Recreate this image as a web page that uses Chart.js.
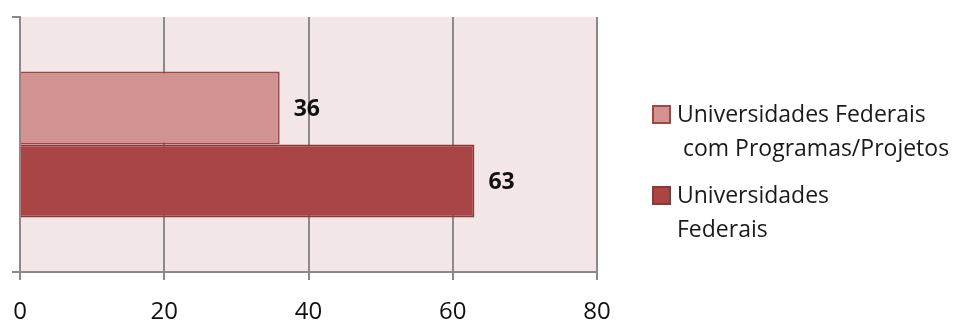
<!DOCTYPE html>
<html>
<head>
<meta charset="utf-8">
<script src="https://cdn.jsdelivr.net/npm/chart.js@4"></script>
<style>
  html, body { margin: 0; padding: 0; background: #ffffff; }
  #wrap { position: relative; width: 957px; height: 325px; }
</style>
</head>
<body>
<div id="wrap"><canvas id="chart"></canvas></div>
<script>
/* ==========================
   DADOS
========================== */
const categorias = [""];
const rotulosSeries = [
  ["Universidades Federais", " com Programas/Projetos"],
  ["Universidades", "Federais"]
];
const comProgramas = [36];
const universidadesFederais = [63];
const ticksX = [0, 20, 40, 60, 80];

const FONTE = '"Open Sans", Lato, sans-serif';
const COR_GRADE = "#8a8a8a";

// fundo rosado só dentro da área do gráfico
const fundoArea = {
  id: "fundoArea",
  beforeDraw(chart) {
    const { ctx, chartArea: a } = chart;
    ctx.save();
    ctx.fillStyle = "#f2e6e6";
    ctx.fillRect(a.left, a.top, a.right - a.left, a.bottom - a.top);
    ctx.restore();
  }
};

// número em negrito logo depois do fim de cada barra
const valoresBarras = {
  id: "valoresBarras",
  afterDatasetsDraw(chart) {
    const { ctx } = chart;
    ctx.save();
    ctx.font = `bold 23px ${FONTE}`;
    ctx.fillStyle = "#111111";
    ctx.textAlign = "left";
    ctx.textBaseline = "middle";
    chart.data.datasets.forEach((ds, i) => {
      chart.getDatasetMeta(i).data.forEach((bar, j) => {
        ctx.fillText(String(ds.data[j]), bar.x + 14, bar.y + 1);
      });
    });
    ctx.restore();
  }
};

// legenda à direita, com quebra de linha nos rótulos
const legendaLateral = {
  id: "legendaLateral",
  afterDraw(chart, args, opts) {
    const { ctx } = chart;
    ctx.save();
    ctx.font = `23px ${FONTE}`;
    ctx.textAlign = "left";
    ctx.textBaseline = "alphabetic";
    let base = opts.top;
    chart.data.datasets.forEach(ds => {
      ctx.fillStyle = ds.backgroundColor;
      ctx.strokeStyle = ds.borderColor;
      ctx.lineWidth = 2;
      ctx.fillRect(opts.x, base - 16, 17, 17);
      ctx.strokeRect(opts.x, base - 16, 17, 17);
      ctx.fillStyle = "#1a1a1a";
      ds.label.forEach((linha, k) => {
        ctx.fillText(linha, opts.x + 24, base + k * opts.lineGap);
      });
      base += ds.label.length * opts.lineGap + opts.itemGap;
    });
    ctx.restore();
  }
};

new Chart(document.getElementById("chart"), {
  type: "bar",
  data: {
    labels: categorias,
    datasets: [
      {
        label: rotulosSeries[0],
        data: comProgramas,
        backgroundColor: "#d19292",
        borderColor: "#a44444",
        borderWidth: 2,
        borderSkipped: "start"
      },
      {
        label: rotulosSeries[1],
        data: universidadesFederais,
        backgroundColor: "#a94545",
        borderColor: "#8e3737",
        borderWidth: 2,
        borderSkipped: "start"
      }
    ]
  },
  options: {
    indexAxis: "y",
    responsive: true,
    maintainAspectRatio: false,
    animation: false,
    categoryPercentage: 0.573,
    barPercentage: 1,
    layout: {
      autoPadding: false,
      padding: { top: 17, right: 360, bottom: 1, left: 12 }
    },
    plugins: {
      legend: { display: false },
      tooltip: { enabled: false },
      legendaLateral: { x: 653, top: 122, lineGap: 34, itemGap: 13 }
    },
    scales: {
      x: {
        min: 0,
        max: 80,
        afterBuildTicks: axis => {
          axis.ticks = ticksX.map(v => ({ value: v }));
        },
        afterFit: axis => {
          axis.height = 52;
          axis.paddingLeft = 0;
          axis.paddingRight = 0;
        },
        ticks: {
          color: "#111111",
          padding: 20,
          font: { family: FONTE, size: 24, lineHeight: 1 }
        },
        grid: {
          color: COR_GRADE,
          lineWidth: 2,
          tickLength: 8
        },
        border: { color: COR_GRADE, width: 2 }
      },
      y: {
        afterFit: axis => {
          axis.width = 8;
        },
        ticks: { display: false },
        grid: {
          color: COR_GRADE,
          lineWidth: 2,
          tickLength: 8,
          drawOnChartArea: false
        },
        border: { color: COR_GRADE, width: 2 }
      }
    }
  },
  plugins: [fundoArea, valoresBarras, legendaLateral]
});
</script>
</body>
</html>
